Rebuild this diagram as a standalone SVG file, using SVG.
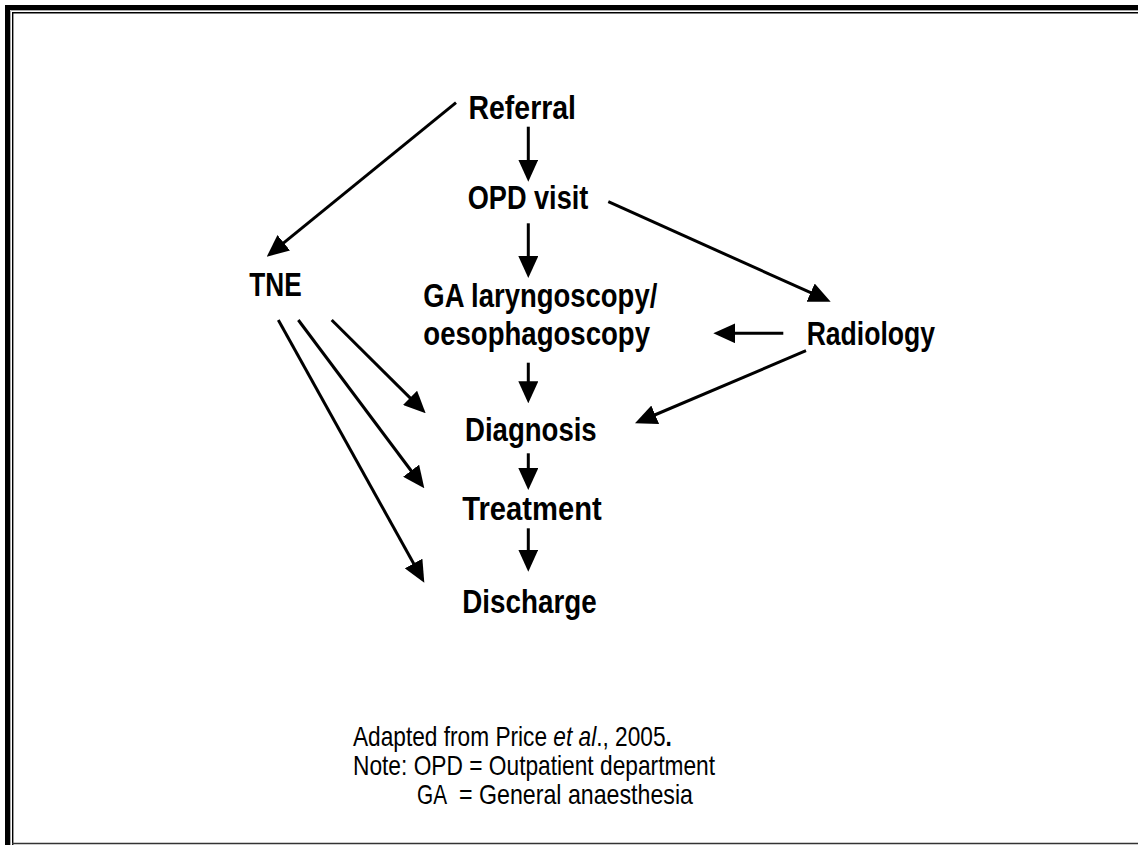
<svg xmlns="http://www.w3.org/2000/svg" width="1138" height="845" viewBox="0 0 1138 845">
<defs>
<style>
.n{font-family:"Liberation Sans",Arial,sans-serif;font-weight:bold;font-size:33px;fill:#000;}
.f{font-family:"Liberation Sans",Arial,sans-serif;font-weight:normal;font-size:28px;fill:#000;}
.c{stroke:#000;stroke-width:3;fill:none;marker-end:url(#ah);}
</style>
<marker id="ah" markerUnits="userSpaceOnUse" markerWidth="22" markerHeight="20" refX="16" refY="10" orient="auto" viewBox="0 0 22 20">
<path d="M0,0 L22,10 L0,20 Z" fill="#000"/>
</marker>
</defs>
<rect x="0" y="0" width="1138" height="845" fill="#fff"/>
<g id="frame">
<path d="M7.5,845 V7.5 H1138" stroke="#000" stroke-width="5" fill="none"/>
<path d="M10.5,845 V10.5 H1138" stroke="#aaa" stroke-width="1" fill="none"/>
<path d="M12.7,845 V12.7 H1138" stroke="#000" stroke-width="1.4" fill="none"/>
<path d="M12,843.5 H1138" stroke="#333" stroke-width="1.4" fill="none"/>
</g>
<g id="connectors">
<line class="c" x1="528.3" y1="126.7" x2="528.3" y2="175.7"/>
<line class="c" x1="528.3" y1="223.3" x2="528.3" y2="272"/>
<line class="c" x1="528.3" y1="362.7" x2="528.3" y2="397.3"/>
<line class="c" x1="528.3" y1="453.3" x2="528.3" y2="484"/>
<line class="c" x1="528.3" y1="528.3" x2="528.3" y2="565.7"/>
<line class="c" x1="456" y1="102.7" x2="271.4" y2="252.9"/>
<line class="c" x1="608.3" y1="201.7" x2="825.2" y2="299.2"/>
<line class="c" x1="783.3" y1="333.3" x2="719.3" y2="333.3"/>
<line class="c" x1="806" y1="350.7" x2="640.5" y2="421"/>
<line class="c" x1="331.7" y1="320" x2="421.4" y2="409.1"/>
<line class="c" x1="298.3" y1="320" x2="420.7" y2="483.5"/>
<line class="c" x1="278.3" y1="320" x2="421.4" y2="577.5"/>
</g>
<g id="referral"><text class="n" x="468.5" y="119" textLength="107.5" lengthAdjust="spacingAndGlyphs">Referral</text></g>
<g id="opd"><text class="n" x="467.7" y="209.3" textLength="120.6" lengthAdjust="spacingAndGlyphs">OPD visit</text></g>
<g id="tne"><text class="n" x="249.3" y="296" textLength="52.4" lengthAdjust="spacingAndGlyphs">TNE</text></g>
<g id="ga">
<text class="n" x="423.3" y="306.7" textLength="234" lengthAdjust="spacingAndGlyphs">GA laryngoscopy/</text>
<text class="n" x="423.3" y="345" textLength="226.7" lengthAdjust="spacingAndGlyphs">oesophagoscopy</text>
</g>
<g id="radiology"><text class="n" x="806.7" y="345" textLength="128.3" lengthAdjust="spacingAndGlyphs">Radiology</text></g>
<g id="diagnosis"><text class="n" x="465" y="440.7" textLength="131.7" lengthAdjust="spacingAndGlyphs">Diagnosis</text></g>
<g id="treatment"><text class="n" x="462.3" y="520" textLength="139.4" lengthAdjust="spacingAndGlyphs">Treatment</text></g>
<g id="discharge"><text class="n" x="462.3" y="613.3" textLength="134.4" lengthAdjust="spacingAndGlyphs">Discharge</text></g>
<g id="footnote">
<text class="f" transform="matrix(0.81,0,0,1,353,746)" x="0" y="0">Adapted from Price <tspan font-style="italic">et al</tspan>., 2005<tspan font-weight="bold">.</tspan></text>
<text class="f" x="353" y="775" textLength="362" lengthAdjust="spacingAndGlyphs">Note: OPD = Outpatient department</text>
<text class="f" x="417" y="804" textLength="30" lengthAdjust="spacingAndGlyphs">GA</text>
<text class="f" x="459" y="804" textLength="234" lengthAdjust="spacingAndGlyphs">= General anaesthesia</text>
</g>
</svg>
